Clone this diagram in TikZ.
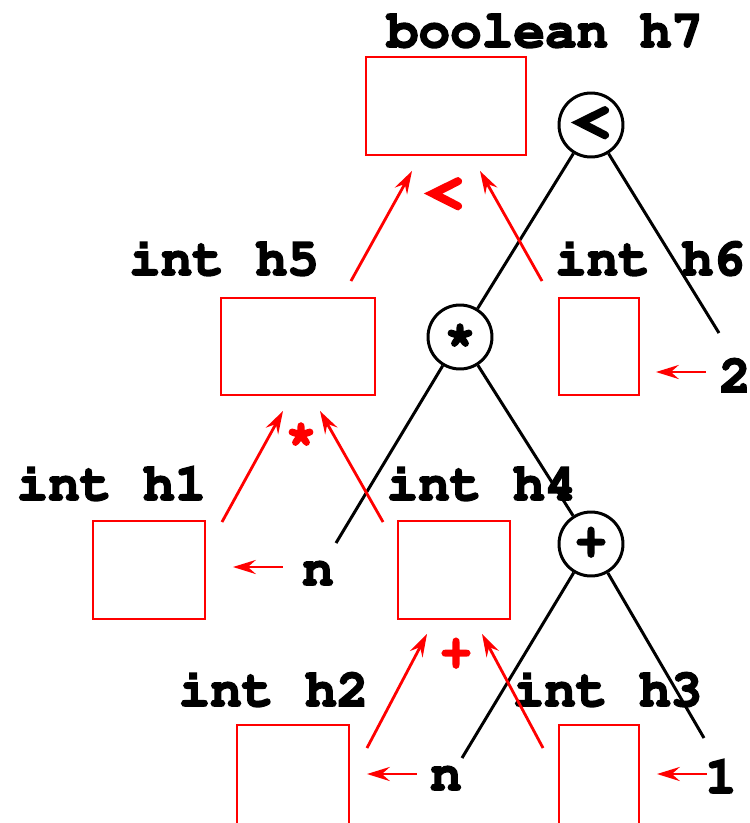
\documentclass[tikz,border=0pt]{standalone}
\usepackage[T1]{fontenc}
\usepackage{courier}
\usetikzlibrary{arrows.meta}

\tikzset{
  every node/.append style={execute at begin node={\special{pdf:literal direct 2 Tr 1 w}},
                            execute at end node={\special{pdf:literal direct 0 Tr}}},
  hbox/.style={draw=red, line width=1.1pt, inner sep=0pt},
  op/.style={circle, draw, line width=1.7pt, minimum size=1.28cm, inner sep=0pt},
  oplab/.style={text=red},
  big/.style={font=\fontsize{40}{40}\selectfont\ttfamily\bfseries},
  tree/.style={line width=1.7pt},
  flow/.style={red, line width=1.6pt, -{Stealth[length=13pt, width=8pt, inset=4.5pt]}}
}

\begin{document}
\begin{tikzpicture}[x=0.02cm, y=-0.02cm, font=\fontsize{30}{36}\selectfont\ttfamily\bfseries]
\useasboundingbox (0,0) rectangle (750,823);
\clip (0,0) rectangle (750,823);

% holes
\node[hbox, minimum width=3.2cm, minimum height=1.96cm] (h7) at (446,106) {};
\node[anchor=base] (lh7) at (545,47) {boolean h7};

\node[hbox, minimum width=3.08cm, minimum height=1.94cm] (h5) at (298,346.5) {};
\node[anchor=base] (lh5) at (224,275) {int h5};
\node[hbox, minimum width=1.6cm, minimum height=1.94cm] (h6) at (599,346.5) {};
\node[anchor=base] (lh6) at (650,275) {int h6};

\node[hbox, minimum width=2.24cm, minimum height=1.96cm] (h1) at (149,570) {};
\node[anchor=base] (lh1) at (111.5,500) {int h1};
\node[hbox, minimum width=2.24cm, minimum height=1.96cm] (h4) at (454,570) {};
\node[anchor=base] (lh4) at (481.5,500) {int h4};

\node[hbox, minimum width=2.24cm, minimum height=2.3cm] (h2) at (293,782.5) {};
\node[anchor=base] (lh2) at (273.5,706) {int h2};
\node[hbox, minimum width=1.6cm, minimum height=2.3cm] (h3) at (599,782.5) {};
\node[anchor=base] (lh3) at (607.5,706) {int h3};

% operators
\node[oplab, big] (rlt) at (444,196) {<};
\node[oplab] (rmul) at (301,436) {*};
\node[oplab] (radd) at (456,655) {+};

% tree
\node[op, big] (lt) at (591,125) {<};
\node[op] (mul) at (460,337) {*};
\node[op] (add) at (591,544) {+};

\node[anchor=base] (n1) at (318,585) {n};
\node[anchor=base] (c2) at (735,392) {2};
\node[anchor=base] (n2) at (446,790) {n};
\node[anchor=base] (c1) at (721,793) {1};

\coordinate (e2) at (719,333);
\coordinate (en1) at (336,543);
\coordinate (en2) at (462,758);
\coordinate (e1) at (704,738);

\draw[tree] (lt) -- (mul);
\draw[tree] (lt) -- (e2);
\draw[tree] (mul) -- (en1);
\draw[tree] (mul) -- (add);
\draw[tree] (add) -- (en2);
\draw[tree] (add) -- (e1);

% values flowing up
\draw[flow] ([shift={(-25,-16)}]h5.north east) -- ([shift={(-34,15)}]h7.south);
\draw[flow] ([shift={(-16,-16)}]h6.north west) -- ([shift={(34,15)}]h7.south);

\draw[flow] ([shift={(16,2)}]h1.north east) -- ([shift={(-15,15)}]h5.south);
\draw[flow] ([shift={(-14,2)}]h4.north west) -- ([shift={(22,15)}]h5.south);

\draw[flow] ([shift={(17,24)}]h2.north east) -- ([shift={(-27,14)}]h4.south);
\draw[flow] ([shift={(-15,24)}]h3.north west) -- ([shift={(28,14)}]h4.south);

% leaves
\draw[flow] ([shift={(66,25.5)}]h6.east) -- ++(-50,0);
\draw[flow] ([shift={(77,-3)}]h1.east) -- ++(-50,0);
\draw[flow] ([shift={(67,-8.5)}]h2.east) -- ++(-50,0);
\draw[flow] ([shift={(67,-8.5)}]h3.east) -- ++(-50,0);

\end{tikzpicture}
\end{document}
